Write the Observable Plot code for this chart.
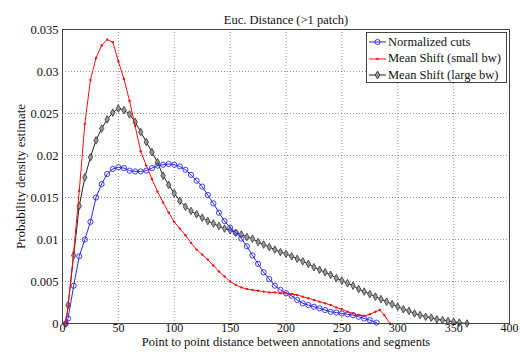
<!DOCTYPE html>
<html><head><meta charset="utf-8">
<script src="https://cdn.jsdelivr.net/npm/d3@7"></script>
<script src="https://cdn.jsdelivr.net/npm/@observablehq/plot@0.6"></script>
<style>
body{margin:0;background:#fff}
#chart{position:relative;width:520px;height:352px}
#legend{position:absolute;left:366px;top:32px;width:139px;height:49px;background:#fff;border:1px solid #444;
  font-family:"Liberation Serif","Times New Roman",serif;font-size:12.5px;color:#111}
.row{position:absolute;left:0;height:16px;display:flex;align-items:center;white-space:nowrap}
.row svg{margin-left:2px;margin-right:2px}
</style>
</head><body><div id="chart"><div id="legend"></div></div>
<script>
const title = "Euc. Distance (>1 patch)";
const xLabel = "Point to point distance between annotations and segments";
const yLabel = "Probability density estimate";
const seriesNames = ["Normalized cuts", "Mean Shift (small bw)", "Mean Shift (large bw)"];
const xTicks = [0, 50, 100, 150, 200, 250, 300, 350, 400];
const yTicks = [0, 0.005, 0.01, 0.015, 0.02, 0.025, 0.03, 0.035];

const ncutsX = [3,5,10,15,20,25,30,35,40,45,50,55,60,65,70,75,80,85,90,95,100,105,110,115,120,125,130,135,140,145,150,155,160,165,170,175,180,185,190,195,200,205,210,215,220,225,230,235,240,245,250,255,260,265,270,275,281];
const ncutsY = [0,0.0006,0.0045,0.0080,0.0100,0.0121,0.0150,0.0166,0.0178,0.0184,0.0186,0.0185,0.0182,0.0181,0.0181,0.0182,0.0185,0.0188,0.0189,0.0190,0.0189,0.0187,0.0183,0.0177,0.0170,0.0163,0.0153,0.0143,0.0132,0.0122,0.0114,0.0108,0.0101,0.0092,0.0081,0.0071,0.0061,0.0053,0.0045,0.0040,0.0036,0.0033,0.0028,0.0024,0.0022,0.0020,0.0018,0.0016,0.0014,0.0013,0.0012,0.0011,0.0010,0.0008,0.0006,0.0004,0.0001];

const msSmallX = [3,5,10,15,20,25,30,35,40,45,50,55,60,65,70,75,80,85,90,95,100,105,110,115,120,125,130,135,140,145,150,155,160,165,170,175,180,185,190,195,200,205,210,215,220,225,230,235,240,245,250,255,260,265,270,275,280,284,288,293];
const msSmallY = [0,0.0020,0.0085,0.0158,0.0238,0.0290,0.0316,0.0331,0.0338,0.0335,0.0312,0.0291,0.0265,0.0235,0.0205,0.0188,0.0172,0.0157,0.0144,0.0132,0.0121,0.0113,0.0105,0.0096,0.0088,0.0082,0.0076,0.0069,0.0062,0.0056,0.0050,0.0046,0.0043,0.0041,0.0040,0.0039,0.0038,0.0037,0.0037,0.0036,0.0036,0.0035,0.0034,0.0032,0.0030,0.0028,0.0026,0.0024,0.0022,0.0019,0.0017,0.0014,0.0012,0.0010,0.0009,0.0011,0.0014,0.0016,0.0010,0];

const msLargeX = [3,5,10,15,20,25,30,35,40,45,50,55,60,65,70,75,80,85,90,95,100,105,110,115,120,125,130,135,140,145,150,155,160,165,170,175,180,185,190,195,200,205,210,215,220,225,230,235,240,245,250,255,260,265,270,275,280,285,290,295,300,305,310,315,320,325,330,335,340,345,350,355,362];
const msLargeY = [0,0.0022,0.0081,0.0140,0.0174,0.0198,0.0218,0.0232,0.0243,0.0251,0.0256,0.0254,0.0249,0.0240,0.0228,0.0216,0.0204,0.0192,0.0176,0.0165,0.0155,0.0146,0.0139,0.0134,0.0130,0.0126,0.0122,0.0119,0.0116,0.0113,0.0111,0.0108,0.0106,0.0103,0.0101,0.0097,0.0094,0.0091,0.0088,0.0085,0.0083,0.0080,0.0077,0.0074,0.0071,0.0067,0.0064,0.0061,0.0058,0.0054,0.0051,0.0048,0.0045,0.0041,0.0038,0.0035,0.0032,0.0029,0.0026,0.0023,0.0020,0.0017,0.0015,0.0012,0.0010,0.0008,0.0007,0.0005,0.0004,0.0003,0.0002,0.0001,0];

const toRows = (xs, ys, s) => xs.map((x, i) => ({series: s, x, y: ys[i]}));
const ncuts = toRows(ncutsX, ncutsY, seriesNames[0]);
const msSmall = toRows(msSmallX, msSmallY, seriesNames[1]);
const msLarge = toRows(msLargeX, msLargeY, seriesNames[2]);

const FONT = "Liberation Serif, Times New Roman, serif";
const blue = "#2828ff", red = "#ff1010", black = "#222";

const chart = Plot.plot({
  width: 520, height: 352,
  marginLeft: 62, marginRight: 11, marginTop: 29, marginBottom: 29,
  style: {fontFamily: FONT, fontSize: "12.5px", color: "#111", background: "#fff"},
  x: {domain: [0, 400], ticks: xTicks},
  y: {domain: [0, 0.035], ticks: yTicks},
  marks: [
    Plot.gridX(xTicks, {stroke: "#666", strokeOpacity: 0.7, strokeDasharray: "1,2"}),
    Plot.gridY(yTicks, {stroke: "#666", strokeOpacity: 0.7, strokeDasharray: "1,2"}),
    Plot.line(msLarge, {x: "x", y: "y", stroke: black, strokeWidth: 1}),
    Plot.dot(msLarge, {x: "x", y: "y", symbol: "diamond", r: 2.3, stroke: "#333", fill: "#999", strokeWidth: 0.8}),
    Plot.line(ncuts, {x: "x", y: "y", stroke: blue, strokeWidth: 1}),
    Plot.dot(ncuts, {x: "x", y: "y", symbol: "circle", r: 2.6, stroke: blue, fill: "none", strokeWidth: 0.9}),
    Plot.line(msSmall, {x: "x", y: "y", stroke: red, strokeWidth: 1}),
    Plot.dot(msSmall, {x: "x", y: "y", symbol: "circle", r: 1.2, fill: red, stroke: "none"}),
    Plot.frame({stroke: "#444"}),
    Plot.axisX(xTicks, {tickSize: 0, tickPadding: 0, label: null, fontSize: 12, tickFormat: d => String(d)}),
    Plot.axisY(yTicks, {tickSize: 0, tickPadding: 4, label: null, tickFormat: d => String(d)}),
    Plot.text([title], {frameAnchor: "top", dy: -14, fontSize: 12.5}),
    Plot.text([xLabel], {frameAnchor: "bottom", dy: 22, fontSize: 12.5}),
    Plot.text([yLabel], {frameAnchor: "left", textAnchor: "middle", dx: -42, rotate: -90, fontSize: 13})
  ]
});
document.getElementById("chart").insertBefore(chart, document.getElementById("legend"));

// legend (HTML overlay)
const legend = d3.select("#legend");
const entries = [
  {name: seriesNames[0], color: blue, sym: d3.symbolCircle, size: 21, fill: "none", stroke: blue},
  {name: seriesNames[1], color: red, sym: d3.symbolCircle, size: 4.5, fill: red, stroke: "none"},
  {name: seriesNames[2], color: black, sym: d3.symbolDiamond, size: 18, fill: "#999", stroke: "#333"}
];
entries.forEach((e, i) => {
  const row = legend.append("div").attr("class", "row").style("top", `${1 + i * 16.5}px`);
  const s = row.append("svg").attr("width", 17).attr("height", 10);
  s.append("line").attr("x1", 0).attr("x2", 17).attr("y1", 5).attr("y2", 5)
    .attr("stroke", e.color).attr("stroke-width", 1);
  s.append("path").attr("d", d3.symbol(e.sym, e.size)()).attr("transform", "translate(8.5,5)")
    .attr("fill", e.fill).attr("stroke", e.stroke).attr("stroke-width", 0.9);
  row.append("span").text(e.name);
});
</script>
</body></html>
